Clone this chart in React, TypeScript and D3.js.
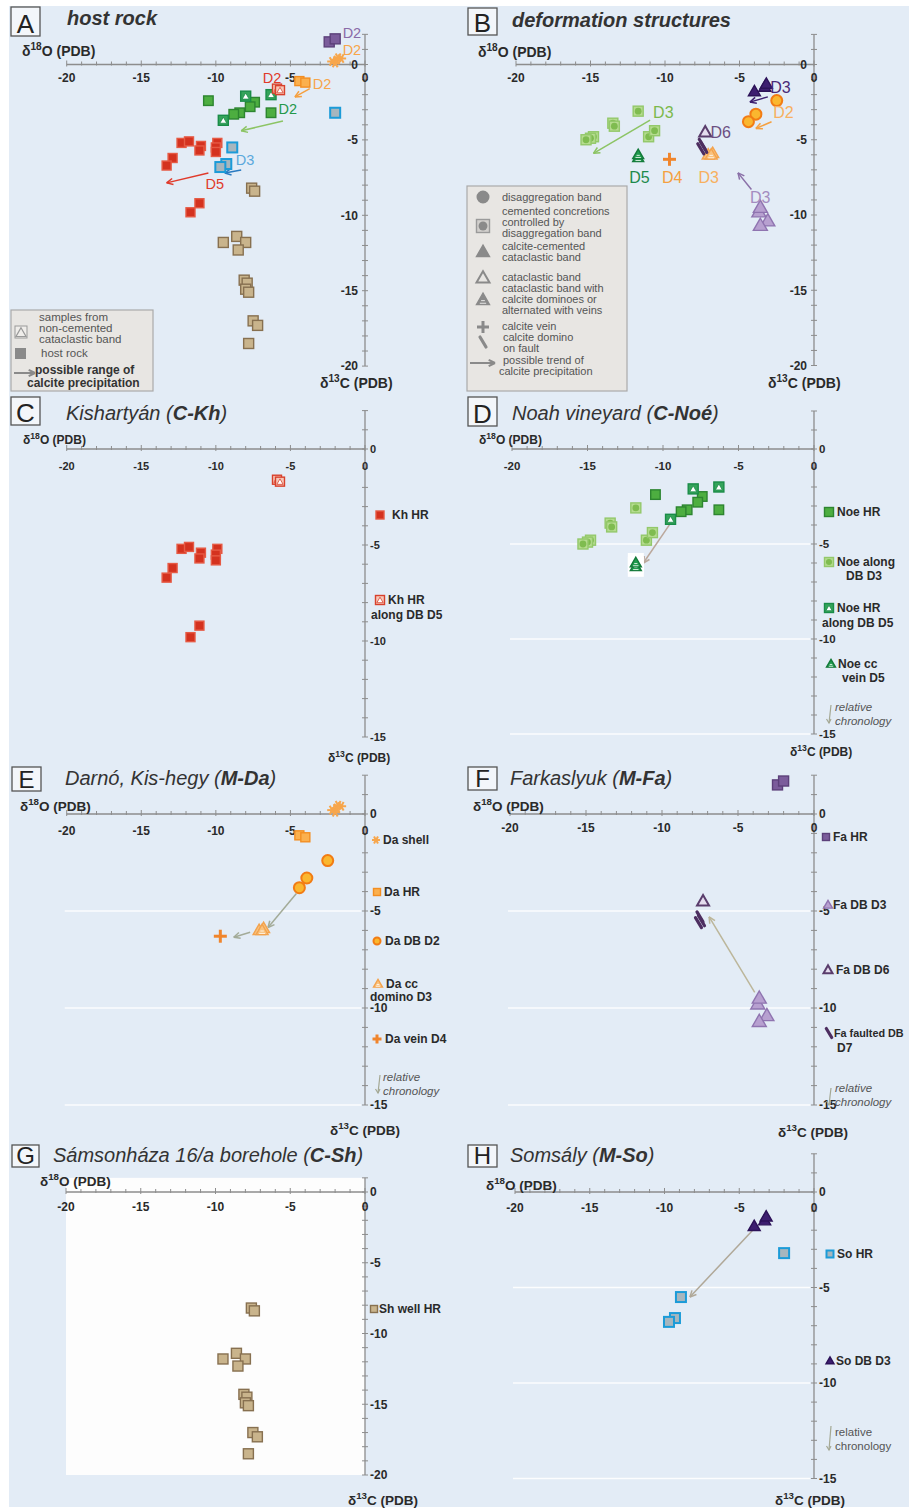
import React, { useRef, useEffect } from "react";
import * as d3 from "d3";

type Pt = [number, number];

// [δ13C, δ18O] in ‰ PDB
const khHR: Pt[] = [[-12.3, -5.2], [-11.8, -5.1], [-11.0, -5.4], [-11.1, -5.7], [-9.9, -5.2], [-10.0, -5.5], [-10.0, -5.8], [-12.9, -6.2], [-13.3, -6.7], [-11.1, -9.2], [-11.7, -9.8]];
const khHRD5: Pt[] = [[-5.9, -1.6], [-5.7, -1.7]];
const noeHR: Pt[] = [[-10.5, -2.4], [-7.4, -2.5], [-7.7, -2.8], [-8.4, -3.2], [-8.8, -3.3], [-6.3, -3.2]];
const noeHRD5: Pt[] = [[-8.0, -2.1], [-6.3, -2.0], [-9.5, -3.7]];
const noeDBD3: Pt[] = [[-11.8, -3.1], [-13.5, -3.9], [-13.4, -4.1], [-14.8, -4.8], [-15.0, -4.9], [-15.3, -5.0], [-11.1, -4.8], [-10.7, -4.4]];
const noeVeinD5: Pt[] = [[-11.8, -6.2], [-11.8, -6.0]];
const daShell: Pt[] = [[-2.2, 0.2], [-1.9, 0.3], [-1.6, 0.4], [-2.0, 0.1], [-1.8, 0.45]];
const daHR: Pt[] = [[-4.4, -1.1], [-4.0, -1.2]];
const daDBD2: Pt[] = [[-2.5, -2.4], [-3.9, -3.3], [-4.4, -3.8]];
const daDominoD3: Pt[] = [[-7.1, -6.0], [-6.8, -5.9], [-6.9, -6.0]];
const daVeinD4: Pt[] = [[-9.7, -6.3]];
const faHR: Pt[] = [[-2.4, 1.5], [-2.0, 1.7]];
const faDBD3: Pt[] = [[-3.7, -9.8], [-3.6, -9.5], [-3.1, -10.4], [-3.6, -10.7]];
const faDBD6: Pt[] = [[-7.3, -4.5]];
const faFaultD7: Pt[] = [[-7.5, -5.3], [-7.6, -5.6], [-7.4, -5.5]];
const shHR: Pt[] = [[-7.6, -8.2], [-7.4, -8.4], [-9.5, -11.8], [-8.6, -11.4], [-8.0, -11.8], [-8.5, -12.3], [-8.1, -14.3], [-7.9, -14.5], [-8.0, -14.9], [-7.8, -15.1], [-7.5, -17.0], [-7.2, -17.3], [-7.8, -18.5]];
const soHR: Pt[] = [[-2.0, -3.2], [-8.9, -5.5], [-9.3, -6.6], [-9.7, -6.8]];
const soDBD3: Pt[] = [[-4.0, -1.8], [-3.3, -1.5], [-3.2, -1.3]];

const xTicks = [-20, -15, -10, -5, 0];
const yTicks20 = [0, -5, -10, -15, -20];
const yTicks15 = [0, -5, -10, -15];

// trend arrows [c1, o1, c2, o2]
const arrowsA = [[-3.7, -1.6, -4.7, -2.15], [-5.5, -3.75, -8.3, -4.4], [-8.3, -7.0, -9.4, -7.2], [-10.5, -7.2, -13.3, -7.85]];
const arrowsB = [[-3.1, -2.15, -4.3, -2.5], [-2.85, -3.8, -3.9, -4.25], [-11.0, -3.7, -14.8, -5.9], [-4.2, -8.3, -5.1, -7.2]];
const arrowsD = [[-9.5, -3.9, -11.3, -6.0]];
const arrowsE = [[-4.6, -4.1, -6.5, -5.85], [-7.7, -6.1, -8.8, -6.35]];
const arrowsF = [[-3.9, -9.2, -6.9, -5.3]];
const arrowsH = [[-4.1, -2.0, -8.3, -5.5]];

// deformation-band labels [text, c, o]
const labelsA: [string, number, number][] = [["D2", -1.5, 2.1], ["D2", -1.5, 1.0], ["D2", -3.5, -1.27], ["D2", -6.85, -0.87], ["D2", -5.8, -2.9], ["D3", -8.66, -6.27], ["D5", -10.7, -7.9]];
const labelsB: [string, number, number][] = [["D3", -2.94, -1.55], ["D2", -2.74, -3.2], ["D3", -10.8, -3.2], ["D6", -6.95, -4.55], ["D5", -12.4, -7.5], ["D4", -10.2, -7.5], ["D3", -7.75, -7.5], ["D3", -4.3, -8.85]];

const data: Record<string, Pt[]> = { khHR, khHRD5, noeHR, noeHRD5, noeDBD3, noeVeinD5, daShell, daHR, daDBD2, daDominoD3, daVeinD4, faHR, faDBD3, faDBD6, faFaultD7, shHR, soHR, soDBD3 };

const styles: Record<string, any> = {
  khHR: { shape: "sq", fill: "#d4321f", stroke: "#e65a44", size: 9 },
  khHRD5: { shape: "sqTri", fill: "#f6c7b8", stroke: "#d8402c", size: 9 },
  noeHR: { shape: "sq", fill: "#4dae40", stroke: "#2d8530", size: 9.5 },
  noeHRD5: { shape: "sqTri", fill: "#35a45a", stroke: "#1a8c48", size: 10 },
  noeDBD3: { shape: "sqCirc", fill: "#b6dc90", stroke: "#93c86a", inner: "#7fbc50", size: 10 },
  noeVeinD5: { shape: "triHatch", fill: "#1f9b4d", stroke: "#137a3a", size: 11 },
  daShell: { shape: "star", stroke: "#f7a64c", size: 10 },
  daHR: { shape: "sq", fill: "#fbb04e", stroke: "#f38e22", size: 9 },
  daDBD2: { shape: "circ", fill: "#fab72f", stroke: "#f27c14", size: 11 },
  daDominoD3: { shape: "triHatch", fill: "#f9c27e", stroke: "#f3a34e", size: 12 },
  daVeinD4: { shape: "plus", stroke: "#f0852c", size: 13 },
  faHR: { shape: "sq", fill: "#7b5c9b", stroke: "#5c407a", size: 10 },
  faDBD3: { shape: "tri", fill: "#b7a0d0", stroke: "#8f74b0", size: 14 },
  faDBD6: { shape: "triOpen", fill: "#e4dcee", stroke: "#5a3d6c", size: 12 },
  faFaultD7: { shape: "slash", stroke: "#4d2e60", size: 10 },
  shHR: { shape: "sq", fill: "#c9b48c", stroke: "#877050", size: 10 },
  soHR: { shape: "sq", fill: "#a6b6be", stroke: "#1b9bd8", size: 10, sw: 2 },
  soDBD3: { shape: "tri", fill: "#3d1e70", stroke: "#2c1258", size: 12 },
};

const font = "'Liberation Sans', Arial, sans-serif";
const txt = "#2a2a2a";

const panels: any[] = [
  { id: "A", title: [["host rock", "bi"]], tx: 67, ty: 25, box: [11, 7, 29, 29], lfs: 26,
    series: ["shHR", "khHR", "noeHR", "noeHRD5", "khHRD5", "soHR", "daHR", "daShell", "faHR"],
    xr: [66.7, 365], y0: 64.5, k: 15.08, yMax: 2, yMin: -20, yTicks: yTicks20, side: "left", tfs: 12, xDy: 17,
    afs: 14, oT: [22, 56], cT: [320, 388], arrows: arrowsA, arrowCol: ["#f5a040", "#8cc464", "#2a7ac0", "#e03a2a"],
    labels: labelsA, labFs: 14.5, labelCol: ["#8a6aa8", "#f7a54a", "#f7a54a", "#e03a2a", "#23984a", "#5aa8dc", "#e03a2a"] },
  { id: "B", title: [["deformation structures", "bi"]], tx: 512, ty: 27, box: [468, 8, 29, 27], lfs: 26,
    series: ["noeDBD3", "noeVeinD5", "daVeinD4", "daDominoD3", "faFaultD7", "faDBD6", "soDBD3", "daDBD2", "faDBD3"],
    xr: [516, 814], y0: 64.5, k: 15.05, yMax: 2, yMin: -20, yTicks: yTicks20, side: "left", tfs: 12, xDy: 17,
    afs: 14, oT: [478, 57], cT: [768, 388], arrows: arrowsB, arrowCol: ["#3c1d6e", "#f5a040", "#8cc464", "#8a70a8"],
    labels: labelsB, labFs: 16, labelCol: ["#4a2a78", "#f7b060", "#7cb94c", "#6b4f82", "#1d8a4c", "#f5a040", "#f7b060", "#a48cc0"] },
  { id: "C", title: [["Kishartyán (", "i"], ["C-Kh", "bi"], [")", "i"]], tx: 66, ty: 420, box: [11, 397, 29, 28], lfs: 26,
    series: ["khHR", "khHRD5"], xr: [66.7, 365], y0: 449, k: 19.2, yMax: 2, yMin: -15, yTicks: yTicks15, side: "right", tfs: 11, xDy: 21,
    afs: 12, oT: [23, 444], cT: [328, 762],
    leg: [{ key: "khHR", m: [380, 515], s: 8, lines: [["Kh HR", 392, 519]] },
      { key: "khHRD5", m: [380, 600], s: 9, lines: [["Kh HR", 388, 604], ["along DB D5", 371, 619]] }] },
  { id: "D", title: [["Noah vineyard (", "i"], ["C-Noé", "bi"], [")", "i"]], tx: 512, ty: 420, box: [468, 397, 29, 29], lfs: 26,
    series: ["noeDBD3", "noeHR", "noeHRD5", "noeVeinD5"], halo: "noeVeinD5", grid: true,
    xr: [512, 814], y0: 449, k: 19, yMax: 2, yMin: -15, yTicks: yTicks15, side: "right", tfs: 11.5, xDy: 21,
    afs: 12, oT: [479, 444], cT: [790, 756], arrows: arrowsD, arrowCol: ["#bba89c"],
    leg: [{ key: "noeHR", m: [829, 512], s: 9, lines: [["Noe HR", 837, 516]] },
      { key: "noeDBD3", m: [829, 562], s: 9, lines: [["Noe along", 837, 566], ["DB D3", 846, 580]] },
      { key: "noeHRD5", m: [829, 608], s: 9, lines: [["Noe HR", 837, 612], ["along DB D5", 822, 627]] },
      { key: "noeVeinD5", m: [831, 664], s: 9, lines: [["Noe cc", 838, 668], ["vein D5", 842, 682]] }],
    chrono: [829, 705, 723, 835, 711, 725, true] },
  { id: "E", title: [["Darnó, Kis-hegy (", "i"], ["M-Da", "bi"], [")", "i"]], tx: 65, ty: 785, box: [12, 767, 29, 24], lfs: 24,
    series: ["daShell", "daHR", "daDBD2", "daDominoD3", "daVeinD4"], grid: true,
    xr: [66.7, 365], y0: 814, k: 19.4, yMax: 2, yMin: -15, yTicks: yTicks15, side: "right", tfs: 12, xDy: 21,
    afs: 13.5, oT: [20, 811], cT: [330, 1135], arrows: arrowsE, arrowCol: ["#a3ab98", "#a3ab98"],
    leg: [{ key: "daShell", m: [376, 840], s: 8, lines: [["Da shell", 383, 844]] },
      { key: "daHR", m: [377, 892], s: 7, lines: [["Da HR", 384, 896]] },
      { key: "daDBD2", m: [377, 941], s: 7, lines: [["Da DB D2", 385, 945]] },
      { key: "daDominoD3", m: [378, 984], s: 9, lines: [["Da cc", 386, 988], ["domino D3", 370, 1001]] },
      { key: "daVeinD4", m: [377, 1039], s: 9, lines: [["Da vein D4", 385, 1043]] }],
    chrono: [378, 1075, 1093, 383, 1081, 1095, true] },
  { id: "F", title: [["Farkaslyuk (", "i"], ["M-Fa", "bi"], [")", "i"]], tx: 510, ty: 785, box: [468, 767, 29, 23], lfs: 24,
    series: ["faHR", "faDBD3", "faDBD6", "faFaultD7"], grid: true,
    xr: [510, 814], y0: 814, k: 19.4, yMax: 2, yMin: -15, yTicks: yTicks15, side: "right", tfs: 12, xDy: 18,
    afs: 13.5, oT: [473, 811], cT: [778, 1137], arrows: arrowsF, arrowCol: ["#bcb69a"],
    leg: [{ key: "faHR", m: [826, 837], s: 7, lines: [["Fa HR", 833, 841]] },
      { key: "faDBD3", m: [828, 905], s: 9, lines: [["Fa DB D3", 833, 909]] },
      { key: "faDBD6", m: [828, 970], s: 9, lines: [["Fa DB D6", 836, 974]] },
      { key: "faFaultD7", m: [829, 1033], s: 9, lines: [["Fa faulted DB", 834, 1037, 10.8], ["D7", 837, 1052]] }],
    chrono: [829, 1088, 1105, 835, 1092, 1106, true] },
  { id: "G", title: [["Sámsonháza 16/a borehole (", "i"], ["C-Sh", "bi"], [")", "i"]], tx: 53, ty: 1162, box: [12, 1145, 27, 22], lfs: 24,
    series: ["shHR"], whiteBg: true,
    xr: [66, 365], y0: 1192, k: 14.15, yMax: 1, yMin: -20, yTicks: yTicks20, side: "right", tfs: 12, xDy: 19,
    afs: 13.5, oT: [40, 1186], cT: [348, 1505],
    leg: [{ key: "shHR", m: [374, 1309], s: 7, lines: [["Sh well HR", 379, 1313]] }] },
  { id: "H", title: [["Somsály (", "i"], ["M-So", "bi"], [")", "i"]], tx: 510, ty: 1162, box: [468, 1145, 29, 22], lfs: 24,
    series: ["soHR", "soDBD3"], grid: true,
    xr: [515, 814], y0: 1192, k: 19.1, yMax: 2, yMin: -15, yTicks: yTicks15, side: "right", tfs: 12, xDy: 20,
    afs: 13.5, oT: [486, 1190], cT: [775, 1505], arrows: arrowsH, arrowCol: ["#b0a898"],
    leg: [{ key: "soHR", m: [830, 1254], s: 7, lines: [["So HR", 837, 1258]] },
      { key: "soDBD3", m: [830, 1361], s: 8, lines: [["So DB D3", 836, 1365]] }],
    chrono: [829, 1426, 1450, 835, 1436, 1450, false] },
];

const triPath = (cx: number, cy: number, s: number) => {
  const h = s * 0.87;
  return `M${cx},${cy - h * 0.6}L${cx + s / 2},${cy + h * 0.4}L${cx - s / 2},${cy + h * 0.4}Z`;
};

const mark = (g: any, st: any, cx: number, cy: number, sz?: number) => {
  const s = sz ?? st.size ?? 10;
  const h = s / 2;
  const sw = st.sw ?? 1.4;
  switch (st.shape) {
    case "sq":
      g.append("rect").attr("x", cx - h).attr("y", cy - h).attr("width", s).attr("height", s)
        .attr("fill", st.fill).attr("stroke", st.stroke).attr("stroke-width", sw);
      break;
    case "sqTri":
      g.append("rect").attr("x", cx - h).attr("y", cy - h).attr("width", s).attr("height", s)
        .attr("fill", st.fill).attr("stroke", st.stroke).attr("stroke-width", sw);
      g.append("path").attr("d", triPath(cx, cy + 0.5, s * 0.7)).attr("fill", "#fff").attr("stroke", st.stroke).attr("stroke-width", 0.8);
      break;
    case "sqCirc":
      g.append("rect").attr("x", cx - h).attr("y", cy - h).attr("width", s).attr("height", s)
        .attr("fill", st.fill).attr("stroke", st.stroke).attr("stroke-width", sw);
      g.append("circle").attr("cx", cx).attr("cy", cy).attr("r", s * 0.34).attr("fill", st.inner);
      break;
    case "tri":
      g.append("path").attr("d", triPath(cx, cy, s)).attr("fill", st.fill).attr("stroke", st.stroke).attr("stroke-width", sw);
      break;
    case "triOpen":
      g.append("path").attr("d", triPath(cx, cy, s)).attr("fill", st.fill).attr("stroke", st.stroke).attr("stroke-width", 2);
      break;
    case "triHatch":
      g.append("path").attr("d", triPath(cx, cy, s)).attr("fill", st.fill).attr("stroke", st.stroke).attr("stroke-width", sw);
      [0.05, 0.25].forEach((f) => {
        g.append("line").attr("x1", cx - s * (0.12 + f * 0.5)).attr("x2", cx + s * (0.12 + f * 0.5))
          .attr("y1", cy + s * f).attr("y2", cy + s * f).attr("stroke", "#fff").attr("stroke-width", 0.8);
      });
      break;
    case "circ":
      g.append("circle").attr("cx", cx).attr("cy", cy).attr("r", h).attr("fill", st.fill).attr("stroke", st.stroke).attr("stroke-width", 2);
      break;
    case "star":
      [0, 60, 120].forEach((a) => {
        const r = (a * Math.PI) / 180;
        g.append("line").attr("x1", cx - h * Math.cos(r)).attr("y1", cy - h * Math.sin(r))
          .attr("x2", cx + h * Math.cos(r)).attr("y2", cy + h * Math.sin(r)).attr("stroke", st.stroke).attr("stroke-width", 2);
      });
      break;
    case "plus":
      g.append("line").attr("x1", cx - h).attr("x2", cx + h).attr("y1", cy).attr("y2", cy).attr("stroke", st.stroke).attr("stroke-width", 3);
      g.append("line").attr("x1", cx).attr("x2", cx).attr("y1", cy - h).attr("y2", cy + h).attr("stroke", st.stroke).attr("stroke-width", 3);
      break;
    case "slash":
      g.append("line").attr("x1", cx - s * 0.3).attr("y1", cy - h).attr("x2", cx + s * 0.3).attr("y2", cy + h)
        .attr("stroke", st.stroke).attr("stroke-width", 3.2).attr("stroke-linecap", "round");
      break;
  }
};

const arrow = (g: any, x1: number, y1: number, x2: number, y2: number, col: string, w = 1.5) => {
  g.append("line").attr("x1", x1).attr("y1", y1).attr("x2", x2).attr("y2", y2).attr("stroke", col).attr("stroke-width", w);
  const a = Math.atan2(y2 - y1, x2 - x1);
  [0.45, -0.45].forEach((d) => {
    g.append("line").attr("x1", x2).attr("y1", y2)
      .attr("x2", x2 - 7 * Math.cos(a + d)).attr("y2", y2 - 7 * Math.sin(a + d))
      .attr("stroke", col).attr("stroke-width", w);
  });
};

const deltaTitle = (g: any, x: number, y: number, fs: number, iso: string, el: string) => {
  const t = g.append("text").attr("x", x).attr("y", y).attr("font-size", fs).attr("font-weight", "bold").attr("fill", txt);
  t.append("tspan").text("δ");
  t.append("tspan").attr("dy", -fs * 0.42).attr("font-size", fs * 0.72).text(iso);
  t.append("tspan").attr("dy", fs * 0.42).text(el + " (PDB)");
};

const App = () => {
  const ref = useRef<SVGSVGElement>(null);

  useEffect(() => {
    const svg = d3.select(ref.current);
    svg.selectAll("*").remove();
    svg.attr("font-family", font);

    svg.append("rect").attr("x", 9).attr("y", 6).attr("width", 900).attr("height", 1501).attr("fill", "#e3ecf6");

    panels.forEach((p) => {
      const g = svg.append("g");
      const x = d3.scaleLinear().domain([-20, 0]).range(p.xr);
      const y = d3.scaleLinear().domain([0, -1]).range([p.y0, p.y0 + p.k]);
      const ax = x(0);
      const ay = y(0);

      if (p.whiteBg) {
        g.append("rect").attr("x", x(-20)).attr("y", y(p.yMax)).attr("width", x(0) - x(-20))
          .attr("height", y(p.yMin) - y(p.yMax)).attr("fill", "#fdfdfd");
      }
      if (p.grid) {
        [-5, -10, -15].forEach((v) => {
          g.append("line").attr("x1", x(-20) - 2).attr("x2", ax - 4).attr("y1", y(v)).attr("y2", y(v))
            .attr("stroke", "#ffffff").attr("stroke-width", 1.3).attr("opacity", 0.9);
        });
      }

      // letter box and title
      const [bx, by, bw, bh] = p.box;
      g.append("rect").attr("x", bx).attr("y", by).attr("width", bw).attr("height", bh)
        .attr("fill", "#f3f6fa").attr("stroke", "#555").attr("stroke-width", 1.3);
      g.append("text").attr("x", bx + bw / 2).attr("y", by + bh - 3.5).attr("text-anchor", "middle")
        .attr("font-size", p.lfs).attr("fill", "#222").text(p.id);
      const tt = g.append("text").attr("x", p.tx).attr("y", p.ty).attr("font-size", 20).attr("fill", "#333");
      p.title.forEach(([s, f]: [string, string]) => {
        tt.append("tspan").attr("font-style", "italic").attr("font-weight", f === "bi" ? "bold" : "normal").text(s);
      });

      // axes
      const axCol = "#8d8d8d";
      g.append("line").attr("x1", x(-20)).attr("x2", ax).attr("y1", ay).attr("y2", ay).attr("stroke", axCol).attr("stroke-width", 1.3);
      g.append("line").attr("x1", ax).attr("x2", ax).attr("y1", y(p.yMax)).attr("y2", y(p.yMin)).attr("stroke", axCol).attr("stroke-width", 1.3);
      d3.range(-20, 1).forEach((v) => {
        const big = v % 5 === 0;
        g.append("line").attr("x1", x(v)).attr("x2", x(v)).attr("y1", ay - (big ? 4 : 3)).attr("y2", ay + (big ? 2 : 1))
          .attr("stroke", axCol).attr("stroke-width", 1);
      });
      d3.range(p.yMin, p.yMax + 1).forEach((v) => {
        g.append("line").attr("x1", ax - 3).attr("x2", ax + 3).attr("y1", y(v)).attr("y2", y(v))
          .attr("stroke", axCol).attr("stroke-width", 1);
      });
      xTicks.forEach((v) => {
        g.append("text").attr("x", x(v)).attr("y", ay + p.xDy).attr("text-anchor", "middle")
          .attr("font-size", p.tfs).attr("font-weight", "bold").attr("fill", txt).text(v);
      });
      p.yTicks.forEach((v: number) => {
        g.append("text").attr("x", p.side === "left" ? ax - 7 : ax + 5).attr("y", y(v) + p.tfs * 0.36)
          .attr("text-anchor", p.side === "left" ? "end" : "start")
          .attr("font-size", p.tfs).attr("font-weight", "bold").attr("fill", txt).text(v);
      });
      deltaTitle(g, p.oT[0], p.oT[1], p.afs, "18", "O");
      deltaTitle(g, p.cT[0], p.cT[1], p.afs, "13", "C");

      // arrows
      (p.arrows || []).forEach((a: number[], i: number) => {
        arrow(g, x(a[0]), y(a[1]), x(a[2]), y(a[3]), p.arrowCol[i]);
      });

      // points
      p.series.forEach((key: string) => {
        data[key].forEach(([c, o]) => {
          if (p.halo === key) {
            g.append("rect").attr("x", x(c) - 8).attr("y", y(o) - 10).attr("width", 16).attr("height", 20).attr("fill", "#fff");
          }
        });
        data[key].forEach(([c, o]) => mark(g, styles[key], x(c), y(o)));
      });

      // labels
      (p.labels || []).forEach(([s, c, o]: [string, number, number], i: number) => {
        g.append("text").attr("x", x(c)).attr("y", y(o) + 5.5).attr("font-size", p.labFs)
          .attr("fill", p.labelCol[i]).text(s);
      });

      // side legend
      (p.leg || []).forEach((l: any) => {
        mark(g, styles[l.key], l.m[0], l.m[1], l.s);
        l.lines.forEach(([s, lx, ly, fs]: [string, number, number, number?]) => {
          g.append("text").attr("x", lx).attr("y", ly).attr("font-size", fs ?? 12).attr("font-weight", "bold").attr("fill", txt).text(s);
        });
      });
      if (p.chrono) {
        const [cx, c1, c2, tx, t1, t2, it] = p.chrono;
        g.append("line").attr("x1", cx + 2).attr("x2", cx).attr("y1", c1).attr("y2", c2).attr("stroke", "#a4a894").attr("stroke-width", 1.2);
        g.append("path").attr("d", `M${cx - 2.5},${c2 - 4}L${cx},${c2}L${cx + 2},${c2 - 4}`).attr("fill", "none").attr("stroke", "#a4a894").attr("stroke-width", 1.2);
        [["relative", t1], ["chronology", t2]].forEach(([s, ty]) => {
          g.append("text").attr("x", tx).attr("y", ty).attr("font-size", 11.5).attr("font-style", it ? "italic" : "normal")
            .attr("fill", "#555").text(s as string);
        });
      }
    });

    const legTxt = (g: any, s: string, lx: number, ly: number, b = false, fs = 11.5) =>
      g.append("text").attr("x", lx).attr("y", ly).attr("font-size", fs).attr("fill", b ? "#333" : "#555")
        .attr("font-weight", b ? "bold" : "normal").text(s);

    // legend A
    const la = svg.append("g");
    la.append("rect").attr("x", 11).attr("y", 310).attr("width", 142).attr("height", 81)
      .attr("fill", "#e8e6e3").attr("stroke", "#aaa").attr("stroke-width", 1.2);
    la.append("rect").attr("x", 15).attr("y", 326).attr("width", 12).attr("height", 12).attr("fill", "#efedea").attr("stroke", "#999");
    la.append("path").attr("d", triPath(21, 333, 10)).attr("fill", "none").attr("stroke", "#999").attr("stroke-width", 1.2);
    la.append("rect").attr("x", 15).attr("y", 348).attr("width", 11).attr("height", 11).attr("fill", "#8a8a8a");
    arrow(la, 14, 373, 35, 373, "#8a8a8a", 2);
    legTxt(la, "samples from", 39, 321);
    legTxt(la, "non-cemented", 39, 332);
    legTxt(la, "cataclastic band", 39, 343);
    legTxt(la, "host rock", 41, 357);
    legTxt(la, "possible range of", 35, 374, true, 12);
    legTxt(la, "calcite precipitation", 27, 387, true, 12);

    // legend B
    const lb = svg.append("g");
    lb.append("rect").attr("x", 467).attr("y", 186).attr("width", 160).attr("height", 205)
      .attr("fill", "#e8e6e3").attr("stroke", "#aaa").attr("stroke-width", 1.2);
    const gray = { fill: "#8a8a8a", stroke: "#8a8a8a" };
    mark(lb, { ...gray, shape: "circ" }, 483, 197, 11);
    mark(lb, { shape: "sqCirc", fill: "#d2d0cd", stroke: "#9a9a9a", inner: "#8a8a8a" }, 483, 226, 13);
    mark(lb, { ...gray, shape: "tri" }, 483, 252, 13);
    mark(lb, { shape: "triOpen", fill: "none", stroke: "#8a8a8a" }, 483, 278, 13);
    mark(lb, { shape: "triHatch", fill: "#8a8a8a", stroke: "#8a8a8a" }, 483, 300, 13);
    mark(lb, { shape: "plus", stroke: "#8a8a8a" }, 483, 327, 12);
    mark(lb, { shape: "slash", stroke: "#8a8a8a" }, 483, 342, 10);
    arrow(lb, 470, 363, 495, 363, "#8a8a8a", 2);
    [["disaggregation band", 502, 201], ["cemented concretions", 502, 215], ["controlled by", 502, 226],
      ["disaggregation band", 502, 237], ["calcite-cemented", 502, 250], ["cataclastic band", 502, 261],
      ["cataclastic band", 502, 281], ["cataclastic band with", 502, 292], ["calcite dominoes or", 502, 303],
      ["alternated with veins", 502, 314], ["calcite vein", 502, 330], ["calcite domino", 503, 341],
      ["on fault", 503, 352], ["possible trend of", 503, 364], ["calcite precipitation", 499, 375]].forEach(([s, lx, ly]) =>
      legTxt(lb, s as string, lx as number, ly as number, false, 11));
  }, []);

  return (
    <div style={{ position: "absolute", left: 0, top: 0 }}>
      <svg ref={ref} width={909} height={1509} style={{ display: "block" }} />
    </div>
  );
};

export default App;
